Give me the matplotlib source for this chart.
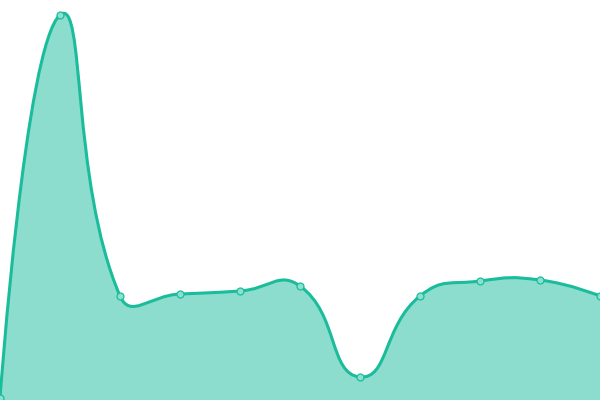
import numpy as np
import matplotlib
matplotlib.use('Agg')
import matplotlib.pyplot as plt
from matplotlib.path import Path
from matplotlib.patches import PathPatch

# values (one point per category)
categories = ['A', 'B', 'C', 'D', 'E', 'F', 'G', 'H', 'I', 'J', 'K']
values = [2, 385, 104, 106, 109, 114, 23, 104, 119, 120, 104]

line_color = '#1abc9c'
y_max = 400


def smooth_path(xs, ys, px_x, px_y, smooth=0.5):
    # bezier control points like an echarts "smooth" line, computed in pixel space
    n = len(xs)
    P = np.column_stack([np.asarray(xs, float) * px_x, np.asarray(ys, float) * px_y])
    verts = [tuple(P[0])]
    codes = [Path.MOVETO]
    cps = []
    for i in range(n):
        if i == 0 or i == n - 1:
            cps.append((P[i], P[i]))
            continue
        v = (P[i + 1] - P[i - 1]) * smooth
        d0 = np.linalg.norm(P[i] - P[i - 1])
        d1 = np.linalg.norm(P[i + 1] - P[i])
        cps.append((P[i] - v * d0 / (d0 + d1), P[i] + v * d1 / (d0 + d1)))
    for i in range(n - 1):
        c1 = cps[i][1]
        c2 = cps[i + 1][0]
        verts += [tuple(c1), tuple(c2), tuple(P[i + 1])]
        codes += [Path.CURVE4] * 3
    verts = np.array(verts)
    verts[:, 0] /= px_x
    verts[:, 1] /= px_y
    return verts, codes


fig = plt.figure(figsize=(6, 4), dpi=100)
ax = fig.add_axes([0, 0, 1, 1])
ax.set_xlim(0, len(categories) - 1)
ax.set_ylim(0, y_max)
ax.axis('off')

xs = np.arange(len(categories))
px_x = 600 / (len(categories) - 1)
px_y = 400 / y_max
verts, codes = smooth_path(xs, values, px_x, px_y)

# area under the curve
area_verts = np.vstack([verts, [[xs[-1], 0], [xs[0], 0], verts[0]]])
area_codes = list(codes) + [Path.LINETO, Path.LINETO, Path.CLOSEPOLY]
ax.add_patch(PathPatch(Path(area_verts, area_codes), facecolor=line_color,
                       alpha=0.5, edgecolor='none'))
ax.add_patch(PathPatch(Path(verts, codes), facecolor='none',
                       edgecolor=line_color, lw=2.2, capstyle='round', joinstyle='round'))

ax.plot(xs, values, linestyle='none', marker='o', markersize=5,
        markerfacecolor='#8ce0cf', markeredgecolor=line_color, markeredgewidth=0.9)

fig.savefig('out.png', dpi=100)
